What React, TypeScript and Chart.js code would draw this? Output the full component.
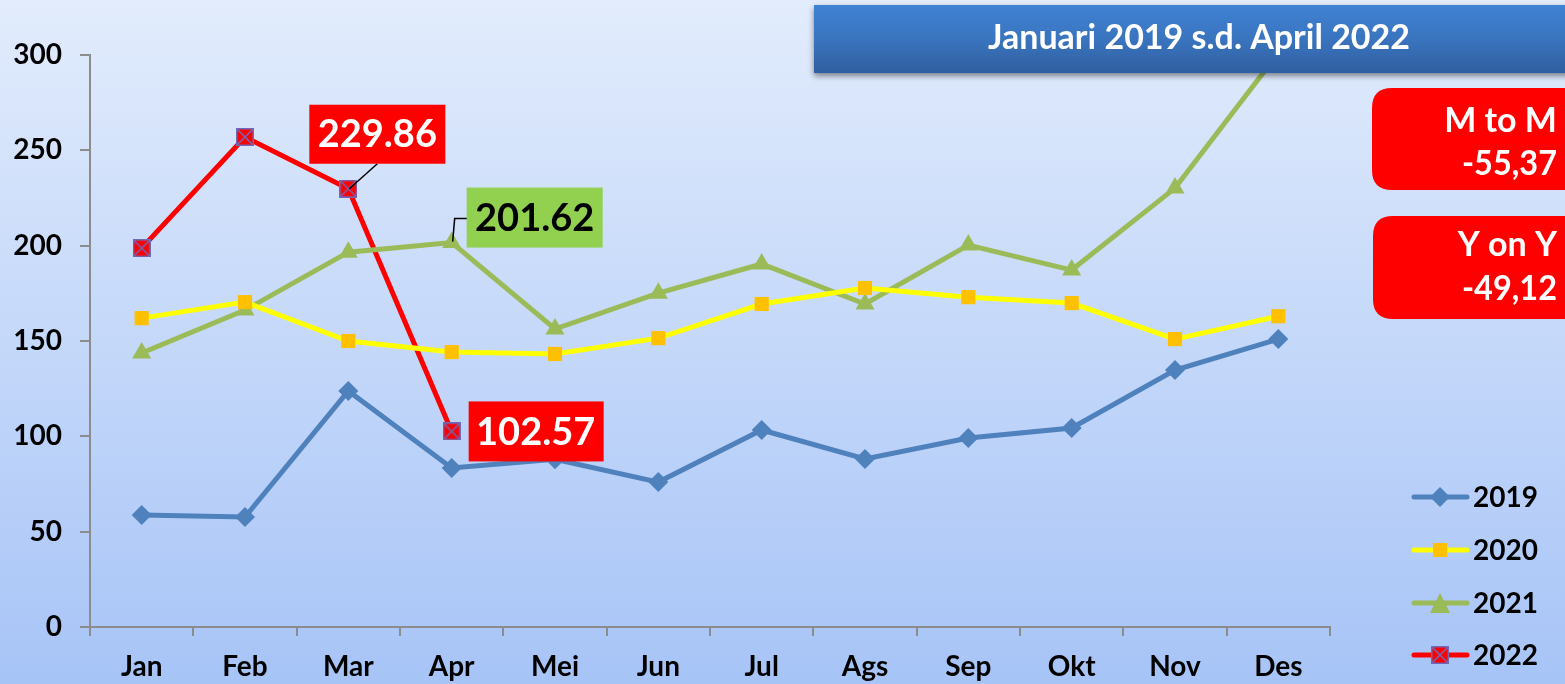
import React, { useEffect, useRef } from 'react';
import { Chart, registerables } from 'chart.js';

Chart.register(...registerables);

const categories = ['Jan', 'Feb', 'Mar', 'Apr', 'Mei', 'Jun', 'Jul', 'Ags', 'Sep', 'Okt', 'Nov', 'Des'];
const seriesNames = ['2019', '2020', '2021', '2022'];
const values2019 = [58.7, 57.7, 123.8, 83.4, 88, 76, 103.3, 88.1, 99.1, 104.4, 134.8, 151];
const values2020 = [162, 170.4, 150, 144.2, 143.2, 151.5, 169.4, 177.8, 173, 169.9, 151, 163];
const values2021 = [143.7, 166.2, 196.6, 201.62, 156.3, 175.1, 190.4, 169.4, 200.3, 187.2, 230.2, 301];
const values2022 = [198.7, 257, 229.86, 102.57, null, null, null, null, null, null, null, null];
const yMin = 0;
const yMax = 300;
const yStep = 50;
const titleText = 'Januari 2019 s.d. April 2022';
const mtmLines = ['M to M', '-55,37'];
const yoyLines = ['Y on Y', '-49,12'];
const labelMar2022 = '229.86';
const labelApr2021 = '201.62';
const labelApr2022 = '102.57';

const FONT = 'Lato, "Open Sans", "DejaVu Sans", sans-serif';
const C2019 = '#4f81bd';
const C2020 = '#ffff00';
const C2020M = '#ffc000';
const C2021 = '#9bbb59';
const C2022 = '#ff0000';
const CROSS = '#7068b8';

function makeCrossMarker(size: number): HTMLCanvasElement {
  const c = document.createElement('canvas');
  c.width = size;
  c.height = size;
  const g = c.getContext('2d')!;
  g.fillStyle = C2022;
  g.fillRect(0, 0, size, size);
  g.strokeStyle = CROSS;
  g.lineWidth = 1.5;
  g.strokeRect(0.75, 0.75, size - 1.5, size - 1.5);
  g.beginPath();
  g.moveTo(1, 1);
  g.lineTo(size - 1, size - 1);
  g.moveTo(size - 1, 1);
  g.lineTo(1, size - 1);
  g.stroke();
  return c;
}

function fitText(ctx: CanvasRenderingContext2D, text: string, x: number, y: number, maxW: number, align: 'left' | 'right' | 'center') {
  const w = ctx.measureText(text).width;
  const s = w > maxW ? maxW / w : 1;
  ctx.save();
  ctx.translate(x, y);
  ctx.scale(s, 1);
  ctx.textAlign = align;
  ctx.fillText(text, 0, 0);
  ctx.restore();
}

function roundRect(ctx: CanvasRenderingContext2D, x: number, y: number, w: number, h: number, r: number) {
  ctx.beginPath();
  ctx.moveTo(x + r, y);
  ctx.lineTo(x + w - r, y);
  ctx.quadraticCurveTo(x + w, y, x + w, y + r);
  ctx.lineTo(x + w, y + h - r);
  ctx.quadraticCurveTo(x + w, y + h, x + w - r, y + h);
  ctx.lineTo(x + r, y + h);
  ctx.quadraticCurveTo(x, y + h, x, y + h - r);
  ctx.lineTo(x, y + r);
  ctx.quadraticCurveTo(x, y, x + r, y);
  ctx.closePath();
}

export default function App() {
  const ref = useRef<HTMLCanvasElement | null>(null);

  useEffect(() => {
    if (!ref.current) return;
    const cross = makeCrossMarker(18);

    const bgPlugin = {
      id: 'bg',
      beforeDraw(chart: any) {
        const ctx = chart.ctx as CanvasRenderingContext2D;
        const g = ctx.createLinearGradient(0, 0, 0, chart.height);
        g.addColorStop(0, '#e2ecfc');
        g.addColorStop(1, '#a7c4f7');
        ctx.save();
        ctx.fillStyle = g;
        ctx.fillRect(0, 0, chart.width, chart.height);
        ctx.restore();
      },
    };

    const overlayPlugin = {
      id: 'overlay',
      afterDraw(chart: any) {
        const ctx = chart.ctx as CanvasRenderingContext2D;
        const m2022 = chart.getDatasetMeta(3).data;
        const m2021 = chart.getDatasetMeta(2).data;
        ctx.save();
        ctx.textBaseline = 'middle';

        // 229.86 label
        const pMar = m2022[2];
        ctx.strokeStyle = '#000';
        ctx.lineWidth = 1.5;
        ctx.beginPath();
        ctx.moveTo(pMar.x + 1, pMar.y);
        ctx.lineTo(pMar.x + 29, pMar.y - 25);
        ctx.stroke();
        ctx.fillStyle = '#ff0000';
        ctx.fillRect(pMar.x - 39, pMar.y - 84, 136, 59);
        ctx.fillStyle = '#ffffff';
        ctx.font = `bold 38px ${FONT}`;
        fitText(ctx, labelMar2022, pMar.x + 29, pMar.y - 54, 122, 'center');

        // 201.62 label
        const pApr = m2021[3];
        ctx.strokeStyle = '#000';
        ctx.lineWidth = 1.5;
        ctx.beginPath();
        ctx.moveTo(pApr.x + 1, pApr.y - 1);
        ctx.lineTo(pApr.x + 3, pApr.y - 24);
        ctx.lineTo(pApr.x + 16, pApr.y - 24);
        ctx.stroke();
        ctx.fillStyle = '#92d050';
        ctx.fillRect(pApr.x + 15, pApr.y - 55, 136, 60);
        ctx.fillStyle = '#000000';
        fitText(ctx, labelApr2021, pApr.x + 83, pApr.y - 24, 122, 'center');

        // 102.57 label
        const pApr2 = m2022[3];
        ctx.fillStyle = '#ff0000';
        ctx.fillRect(pApr2.x + 17, pApr2.y - 30, 135, 60);
        ctx.fillStyle = '#ffffff';
        fitText(ctx, labelApr2022, pApr2.x + 84, pApr2.y + 1, 122, 'center');

        // banner
        ctx.save();
        ctx.shadowColor = 'rgba(0,0,0,0.45)';
        ctx.shadowBlur = 6;
        ctx.shadowOffsetY = 3;
        const bg = ctx.createLinearGradient(0, 5, 0, 73);
        bg.addColorStop(0, '#3f82d4');
        bg.addColorStop(0.5, '#3a74bf');
        bg.addColorStop(1, '#2f5f9e');
        ctx.fillStyle = bg;
        ctx.fillRect(814, 5, 760, 68);
        ctx.restore();
        ctx.fillStyle = '#ffffff';
        ctx.font = `bold 34px ${FONT}`;
        fitText(ctx, titleText, 1199, 38, 426, 'center');

        // red rounded boxes
        ctx.fillStyle = '#ff0000';
        roundRect(ctx, 1372, 88, 210, 102, 20);
        ctx.fill();
        roundRect(ctx, 1373, 216, 210, 103, 20);
        ctx.fill();
        ctx.fillStyle = '#ffffff';
        ctx.font = `bold 34px ${FONT}`;
        fitText(ctx, mtmLines[0], 1557, 121, 114, 'right');
        fitText(ctx, mtmLines[1], 1557, 164, 95, 'right');
        fitText(ctx, yoyLines[0], 1557, 245, 104, 'right');
        fitText(ctx, yoyLines[1], 1557, 289, 95, 'right');

        // legend
        const legendY = [497, 550, 603, 655];
        const lineCols = [C2019, C2020, C2021, C2022];
        for (let i = 0; i < 4; i++) {
          const y = legendY[i];
          ctx.strokeStyle = lineCols[i];
          ctx.lineWidth = 5;
          ctx.lineCap = 'round';
          ctx.beginPath();
          ctx.moveTo(1414, y);
          ctx.lineTo(1467, y);
          ctx.stroke();
          const cx = 1440;
          if (i === 0) {
            ctx.fillStyle = C2019;
            ctx.beginPath();
            ctx.moveTo(cx, y - 10);
            ctx.lineTo(cx + 10, y);
            ctx.lineTo(cx, y + 10);
            ctx.lineTo(cx - 10, y);
            ctx.closePath();
            ctx.fill();
          } else if (i === 1) {
            ctx.fillStyle = C2020M;
            ctx.fillRect(cx - 7, y - 7, 14, 14);
          } else if (i === 2) {
            ctx.fillStyle = C2021;
            ctx.beginPath();
            ctx.moveTo(cx, y - 10);
            ctx.lineTo(cx + 10, y + 10);
            ctx.lineTo(cx - 10, y + 10);
            ctx.closePath();
            ctx.fill();
          } else {
            ctx.drawImage(cross, cx - 9, y - 9);
          }
          ctx.fillStyle = '#000000';
          ctx.font = `bold 28px ${FONT}`;
          ctx.textAlign = 'left';
          ctx.fillText(seriesNames[i], 1473, y + 1);
        }
        ctx.restore();
      },
    };

    const tickFont = { family: FONT, size: 28, weight: 'bold' as const };

    const chart = new Chart(ref.current, {
      type: 'line',
      data: {
        labels: categories,
        datasets: [
          {
            label: seriesNames[0],
            data: values2019,
            borderColor: C2019,
            backgroundColor: C2019,
            borderWidth: 5,
            pointStyle: 'rectRot',
            pointRadius: 10,
            pointBorderWidth: 0,
            tension: 0,
          },
          {
            label: seriesNames[1],
            data: values2020,
            borderColor: C2020,
            backgroundColor: C2020M,
            pointBackgroundColor: C2020M,
            pointBorderColor: C2020M,
            borderWidth: 5,
            pointStyle: 'rect',
            pointRadius: 10,
            pointBorderWidth: 0,
            tension: 0,
          },
          {
            label: seriesNames[2],
            data: values2021,
            borderColor: C2021,
            backgroundColor: C2021,
            borderWidth: 5,
            pointStyle: 'triangle',
            pointRadius: 11,
            pointBorderWidth: 0,
            tension: 0,
          },
          {
            label: seriesNames[3],
            data: values2022,
            borderColor: C2022,
            backgroundColor: C2022,
            borderWidth: 5,
            pointStyle: cross as any,
            pointRadius: 9,
            tension: 0,
            spanGaps: false,
          },
        ],
      },
      options: {
        animation: false,
        responsive: false,
        events: [],
        layout: { padding: { top: 55, right: 235, bottom: 0, left: 0 } },
        plugins: { legend: { display: false }, tooltip: { enabled: false } },
        scales: {
          x: {
            offset: true,
            grid: { display: true, drawOnChartArea: false, offset: true, color: '#8c8c8c', tickLength: 9, lineWidth: 2 },
            border: { color: '#8c8c8c', width: 2 },
            ticks: { font: tickFont, color: '#000000', padding: 14, maxRotation: 0 },
            afterFit(s: any) { s.height = 57; },
          },
          y: {
            min: yMin,
            max: yMax,
            grid: { display: true, drawOnChartArea: false, color: '#8c8c8c', tickLength: 10, lineWidth: 2 },
            border: { color: '#8c8c8c', width: 2 },
            ticks: { stepSize: yStep, font: tickFont, color: '#000000', padding: 18 },
            afterFit(s: any) { s.width = 90; },
          },
        },
      },
      plugins: [bgPlugin, overlayPlugin],
    });

    return () => chart.destroy();
  }, []);

  return (
    <div style={{ position: 'fixed', left: 0, top: 0, width: 1565, height: 684 }}>
      <canvas ref={ref} width={1565} height={684} style={{ display: 'block' }} />
    </div>
  );
}
